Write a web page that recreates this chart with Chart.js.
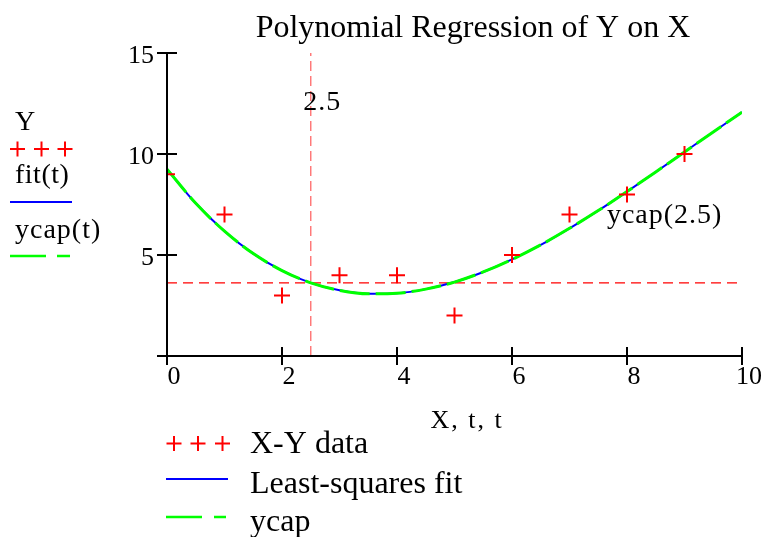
<!DOCTYPE html>
<html>
<head>
<meta charset="utf-8">
<title>Polynomial Regression of Y on X</title>
<script src="https://cdn.jsdelivr.net/npm/chart.js@4.4.1/dist/chart.umd.min.js"></script>
<style>
  html, body { margin: 0; padding: 0; background: #fff; }
</style>
</head>
<body>
<canvas id="regChart" width="765" height="537"></canvas>
<script>
// Measured X-Y pairs
const xData = [0, 1, 2, 3, 4, 5, 6, 7, 8, 9];
const yData = [9, 7, 3, 4, 4, 2, 5, 7, 8, 10];

// Least-squares polynomial fit, sampled every 0.5 on t
const tValues = [0, 0.5, 1, 1.5, 2, 2.5, 3, 3.5, 4, 4.5, 5, 5.5, 6, 6.5, 7, 7.5, 8, 8.5, 9, 9.5, 10];
const fitValues = [9.25, 7.56, 6.18, 5.07, 4.23, 3.62, 3.25, 3.08, 3.11, 3.31, 3.66, 4.16, 4.78, 5.50, 6.32, 7.20, 8.14, 9.11, 10.10, 11.09, 12.07];
// ycap(t) is the same fitted polynomial
const ycapValues = [9.25, 7.56, 6.18, 5.07, 4.23, 3.62, 3.25, 3.08, 3.11, 3.31, 3.66, 4.16, 4.78, 5.50, 6.32, 7.20, 8.14, 9.11, 10.10, 11.09, 12.07];

// Evaluation point and its value
const markerT = 2.5;
const markerY = 3.62;

const xTicks = [0, 2, 4, 6, 8, 10];
const yTicks = [0, 5, 10, 15];

const SERIF = '"Liberation Serif", "Times New Roman", serif';
Chart.defaults.font.family = SERIF;
Chart.defaults.color = '#000';

function toPoints(xs, ys) {
    return xs.map((x, i) => ({ x: x, y: ys[i] }));
}

function drawText(c, text, x, y, size, align, spacing) {
    c.font = size + 'px ' + SERIF;
    c.textAlign = align || 'left';
    c.textBaseline = 'alphabetic';
    c.letterSpacing = (spacing || 0) + 'px';
    c.fillStyle = '#000';
    c.fillText(text, x, y);
    c.letterSpacing = '0px';
}

function drawCross(c, x, y) {
    c.strokeStyle = '#ff0000';
    c.lineWidth = 2;
    Chart.helpers.drawPoint(c, { pointStyle: 'cross', radius: 7.5, borderWidth: 2 }, x, y);
}

function drawSample(c, x1, x2, y, color, width, dash) {
    c.save();
    c.strokeStyle = color;
    c.lineWidth = width;
    c.setLineDash(dash || []);
    c.beginPath();
    c.moveTo(x1, y);
    c.lineTo(x2, y);
    c.stroke();
    c.restore();
}

// Axes with ticks crossing the lines, plus titles and the two legends
const mathcadDecor = {
    id: 'mathcadDecor',
    afterDraw(chart) {
        const c = chart.ctx;
        const xs = chart.scales.x;
        const ys = chart.scales.y;
        const x0 = xs.getPixelForValue(0);
        const y0 = ys.getPixelForValue(0);

        c.save();
        c.strokeStyle = '#000';
        c.lineWidth = 2;
        c.beginPath();
        c.moveTo(x0, ys.getPixelForValue(15));
        c.lineTo(x0, y0);
        c.moveTo(x0 - 9, y0);
        c.lineTo(xs.getPixelForValue(10), y0);
        yTicks.forEach(v => {
            const py = ys.getPixelForValue(v);
            c.moveTo(x0 - 10, py);
            c.lineTo(x0 + 10, py);
        });
        xTicks.forEach(v => {
            const px = xs.getPixelForValue(v);
            c.moveTo(px, y0 - 9);
            c.lineTo(px, y0 + 9);
        });
        c.stroke();

        // Titles and value labels
        drawText(c, 'Polynomial Regression of Y on X', 473, 37, 32, 'center');
        drawText(c, 'X, t, t', 467, 428, 26, 'center', 2);
        drawText(c, '2.5', xs.getPixelForValue(2.37), ys.getPixelForValue(12.18), 28, 'left', 1);
        drawText(c, 'ycap(2.5)', xs.getPixelForValue(7.65), ys.getPixelForValue(6.57), 28, 'left', 1);

        // Left legend
        drawText(c, 'Y', 15, 130, 28);
        [17.5, 41.5, 65].forEach(px => drawCross(c, px, 149));
        drawText(c, 'fit(t)', 15, 183, 28, 'left', 0.5);
        drawSample(c, 10, 72, 202, '#0000ff', 2);
        drawText(c, 'ycap(t)', 15, 238, 28, 'left', 1);
        drawSample(c, 10, 72, 256, '#00ff00', 2.5, [36, 11, 13, 100]);

        // Bottom legend
        [174, 198, 222.5].forEach(px => drawCross(c, px, 443.5));
        drawText(c, 'X-Y data', 250, 453, 32);
        drawSample(c, 166, 228, 479, '#0000ff', 2);
        drawText(c, 'Least-squares fit', 250, 493, 32);
        drawSample(c, 166, 228, 517, '#00ff00', 2.5, [36, 12, 12, 100]);
        drawText(c, 'ycap', 250, 531, 32);
        c.restore();
    }
};

new Chart(document.getElementById('regChart'), {
    type: 'scatter',
    data: {
        datasets: [
            {
                label: 'X-Y data',
                data: toPoints(xData, yData),
                showLine: false,
                pointStyle: 'cross',
                pointRadius: 8,
                pointBorderColor: '#ff0000',
                pointBorderWidth: 2,
                clip: 0
            },
            {
                label: 'ycap',
                data: toPoints(tValues, ycapValues),
                showLine: true,
                borderColor: '#00ff00',
                borderWidth: 3,
                borderDash: [30, 6],
                cubicInterpolationMode: 'monotone',
                pointRadius: 0
            },
            {
                label: 'Least-squares fit',
                data: toPoints(tValues, fitValues),
                showLine: true,
                borderColor: '#0000ff',
                borderWidth: 2,
                cubicInterpolationMode: 'monotone',
                pointRadius: 0
            },
            {
                label: 'ycap level',
                data: [{ x: 0, y: markerY }, { x: 10, y: markerY }],
                showLine: true,
                borderColor: '#ff0000',
                borderWidth: 1.4,
                borderDash: [10, 6],
                pointRadius: 0
            },
            {
                label: 't marker',
                data: [{ x: markerT, y: 0 }, { x: markerT, y: 15 }],
                showLine: true,
                borderColor: 'rgba(255, 40, 40, 0.65)',
                borderWidth: 1.4,
                borderDash: [10, 5],
                pointRadius: 0
            }
        ]
    },
    options: {
        responsive: false,
        animation: false,
        layout: {
            padding: { top: 53, right: 23, left: 0, bottom: 0 }
        },
        plugins: {
            legend: { display: false },
            tooltip: { enabled: false }
        },
        scales: {
            x: {
                type: 'linear',
                min: 0,
                max: 10,
                grid: { display: false, drawTicks: false },
                border: { display: false },
                ticks: { font: { size: 26 }, padding: 6, labelOffset: 7 },
                afterBuildTicks: s => { s.ticks = xTicks.map(v => ({ value: v })); },
                afterFit: s => { s.height = 181; }
            },
            y: {
                min: 0,
                max: 15,
                grid: { display: false, drawTicks: false },
                border: { display: false },
                ticks: {
                    font: { size: 26 },
                    padding: 13,
                    labelOffset: 3,
                    callback: v => (v === 0 ? '' : v)
                },
                afterBuildTicks: s => { s.ticks = yTicks.map(v => ({ value: v })); },
                afterFit: s => { s.width = 167; }
            }
        }
    },
    plugins: [mathcadDecor]
});
</script>
</body>
</html>
